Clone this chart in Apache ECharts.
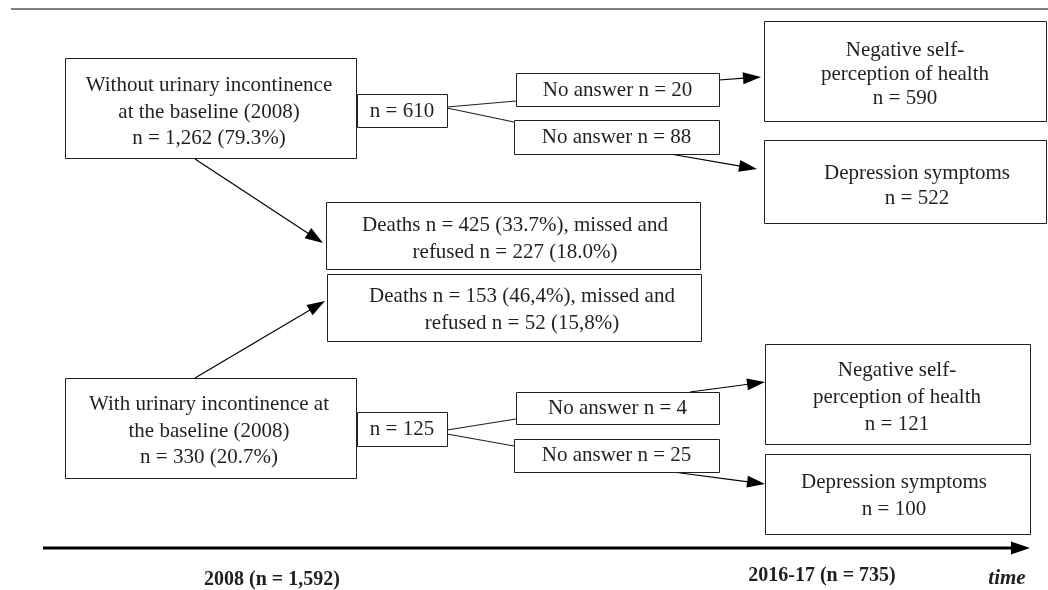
<!DOCTYPE html>
<html>
<head>
<meta charset="utf-8">
<title>Flow chart</title>
<script src="https://cdn.jsdelivr.net/npm/echarts@6/dist/echarts.min.js"></script>
<style>
  html, body { margin: 0; padding: 0; background: #fff; }
  #main { width: 1048px; height: 590px; }
</style>
</head>
<body>
<div id="main"></div>
<script>
// box texts (order: without UI, with UI)
const baselineText = [
  'Without urinary incontinence\nat the baseline (2008)\nn = 1,262 (79.3%)',
  'With urinary incontinence at\nthe baseline (2008)\nn = 330 (20.7%)'
]
const followedText = ['n = 610', 'n = 125']
const noAnswerSelfText = ['No answer n = 20', 'No answer n = 4']
const noAnswerDepText = ['No answer n = 88', 'No answer n = 25']
const selfPerceptionText = [
  'Negative self-\nperception of health\nn = 590',
  'Negative self-\nperception of health\nn = 121'
]
const depressionText = ['Depression symptoms\nn = 522', 'Depression symptoms\nn = 100']
const lossText = [
  'Deaths n = 425 (33.7%), missed and\nrefused n = 227 (18.0%)',
  'Deaths n = 153 (46,4%), missed and\nrefused n = 52 (15,8%)'
]
const timeLabels = ['2008 (n = 1,592)', '2016-17 (n = 735)', 'time']

// layout, in chart units (x: 0..1048, y: 0..590 from top)
// [x0, y0, x1, y1, textX, textY, lineHeight]
const boxLayout = [
  [65, 58, 356, 158, 209, 112, 26.5],
  [65, 378, 356, 478, 209, 431, 26.5],
  [357, 94, 447, 127, 402, 111, 24],
  [357, 412, 447, 446, 402, 429, 24],
  [516, 73, 719, 106, 617.5, 90, 24],
  [516, 392, 719, 424, 617.5, 408, 24],
  [514, 120, 719, 154, 616.5, 137, 24],
  [514, 439, 719, 472, 616.5, 455.5, 24],
  [764, 21, 1046, 121, 905, 74, 24],
  [765, 344, 1030, 444, 897, 397, 27],
  [764, 140, 1046, 223, 917, 185.5, 25],
  [765, 454, 1030, 534, 894, 496, 27],
  [326, 202, 700, 269, 515, 238.5, 27],
  [327, 274, 701, 341, 522, 309.5, 27]
]
const boxTexts = [].concat(baselineText, followedText, noAnswerSelfText, noAnswerDepText,
  selfPerceptionText, depressionText, lossText)

// plain connectors [x0, y0, x1, y1]
const connectors = [
  [447, 107, 516, 101],
  [447, 108, 514, 122],
  [447, 430, 516, 419],
  [447, 434, 514, 446]
]
// arrows [x0, y0, tipX, tipY]
const arrows = [
  [195, 159, 323, 243],
  [195, 378, 325, 301],
  [719, 80, 761, 77],
  [670, 154, 757, 169],
  [690, 392, 765, 382],
  [673, 472, 765, 484]
]
const timeline = [[43, 548, 1030, 548]]
const topRule = [[11, 9, 1048, 9]]
// [x, y]
const labelPos = [[272, 580], [822, 576], [1007, 579]]

const ink = '#231f20'
const serif = '"Liberation Serif", "DejaVu Serif", serif'

function renderBox (params, api) {
  const p0 = api.coord([api.value(0), api.value(1)])
  const p1 = api.coord([api.value(2), api.value(3)])
  const t = api.coord([api.value(4), api.value(5)])
  return {
    type: 'group',
    children: [{
      type: 'rect',
      shape: { x: Math.round(p0[0]) + 0.5, y: Math.round(p0[1]) + 0.5, width: p1[0] - p0[0], height: p1[1] - p0[1] },
      style: { fill: '#fff', stroke: ink, lineWidth: 1 }
    }, {
      type: 'text',
      x: t[0],
      y: t[1],
      style: {
        text: boxTexts[params.dataIndex],
        font: '21px ' + serif,
        fill: ink,
        align: 'center',
        verticalAlign: 'middle',
        lineHeight: api.value(6)
      }
    }]
  }
}

// line with an optional filled triangle head at the end
function arrowRender (headLen, headW, width, color) {
  return function (params, api) {
    const a = api.coord([api.value(0), api.value(1)])
    const b = api.coord([api.value(2), api.value(3)])
    const dx = b[0] - a[0]
    const dy = b[1] - a[1]
    const len = Math.sqrt(dx * dx + dy * dy)
    const ux = dx / len
    const uy = dy / len
    const bx = b[0] - ux * headLen
    const by = b[1] - uy * headLen
    const children = [{
      type: 'line',
      shape: { x1: a[0], y1: a[1], x2: headLen ? bx + ux : b[0], y2: headLen ? by + uy : b[1] },
      style: { stroke: color, lineWidth: width }
    }]
    if (headLen) {
      children.push({
        type: 'polygon',
        shape: { points: [[b[0], b[1]], [bx - uy * headW / 2, by + ux * headW / 2], [bx + uy * headW / 2, by - ux * headW / 2]] },
        style: { fill: color }
      })
    }
    return { type: 'group', children: children }
  }
}

const chart = echarts.init(document.getElementById('main'))
chart.setOption({
  backgroundColor: '#fff',
  animation: false,
  grid: { left: 0, right: 0, top: 0, bottom: 0 },
  xAxis: { type: 'value', min: 0, max: 1048, show: false },
  yAxis: { type: 'value', min: 0, max: 590, inverse: true, show: false },
  series: [{
    type: 'custom',
    name: 'rule',
    renderItem: arrowRender(0, 0, 2, '#7f7f7f'),
    data: topRule
  }, {
    type: 'custom',
    name: 'connectors',
    renderItem: arrowRender(0, 0, 1.2, ink),
    data: connectors
  }, {
    type: 'custom',
    name: 'arrows',
    renderItem: arrowRender(18, 12, 1.2, '#000'),
    data: arrows
  }, {
    type: 'custom',
    name: 'boxes',
    renderItem: renderBox,
    data: boxLayout
  }, {
    type: 'custom',
    name: 'timeline',
    renderItem: arrowRender(19, 13, 3, '#000'),
    data: timeline
  }, {
    type: 'custom',
    name: 'time labels',
    renderItem: function (params, api) {
      const p = api.coord([api.value(0), api.value(1)])
      const last = params.dataIndex === timeLabels.length - 1
      return {
        type: 'text',
        x: p[0],
        y: p[1],
        style: {
          text: timeLabels[params.dataIndex],
          font: (last ? 'italic bold 21px ' : 'bold 20px ') + serif,
          fill: ink,
          align: 'center',
          verticalAlign: 'middle'
        }
      }
    },
    data: labelPos
  }]
})
</script>
</body>
</html>
